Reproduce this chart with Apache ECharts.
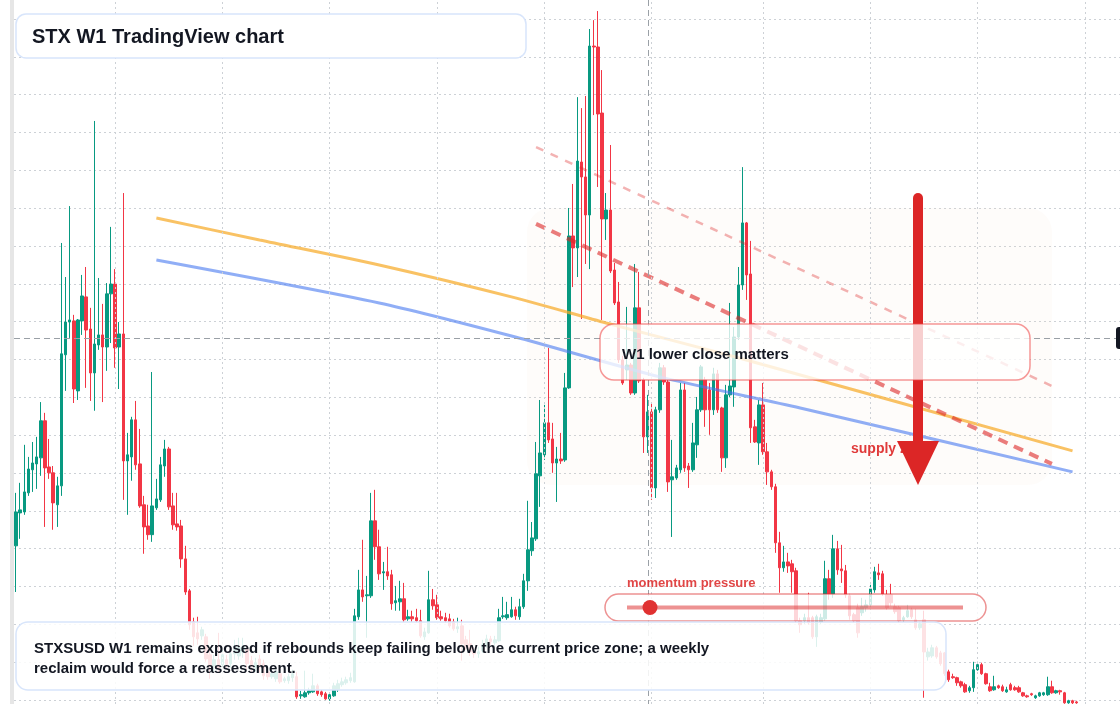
<!DOCTYPE html>
<html>
<head>
<meta charset="utf-8">
<title>STX W1 TradingView chart</title>
<script src="https://cdn.jsdelivr.net/npm/echarts@6/dist/echarts.min.js"></script>
<style>
  html, body { margin: 0; padding: 0; background: #ffffff; }
  #chart { width: 1120px; height: 704px; }
</style>
</head>
<body>
<div id="chart"></div>
<script>
// weekly candles, oldest first (STXUSD, W1)
const weekStart = Date.UTC(2021, 6, 19);
const weeks = Array.from({ length: 268 }, (_, i) => new Date(weekStart + i * 604800000).toISOString().slice(0, 10));

// time grid: first week of each half year
const gridWeeks = ['2022-01-03', '2022-07-04', '2023-01-02', '2023-07-03', '2024-01-01', '2024-07-01', '2025-01-06', '2025-07-07', '2026-01-05', '2026-07-06'];

const opens = [
  1.015,1.189,1.194,1.295,1.417,1.448,1.480,1.676,1.432,1.401,
  1.232,1.332,2.025,2.198,2.204,1.834,2.204,2.331,2.161,1.929,
  2.077,2.130,2.066,2.347,2.399,2.066,2.135,1.464,1.485,1.681,
  1.448,1.232,1.120,1.074,1.216,1.258,1.437,1.527,1.226,1.131,
  1.120,0.946,0.777,0.613,0.555,0.539,0.534,0.439,0.381,0.413,
  0.387,0.413,0.392,0.444,0.433,0.454,0.470,0.408,0.371,0.417,
  0.392,0.349,0.323,0.312,0.339,0.302,0.302,0.318,0.323,0.222,
  0.217,0.238,0.243,0.275,0.243,0.233,0.206,0.222,0.254,0.281,
  0.291,0.302,0.296,0.640,0.782,0.751,0.751,1.147,1.010,0.872,
  0.878,0.862,0.714,0.719,0.735,0.629,0.640,0.635,0.619,0.534,
  0.555,0.730,0.703,0.640,0.635,0.629,0.613,0.576,0.592,0.518,
  0.497,0.455,0.444,0.460,0.492,0.523,0.502,0.513,0.640,0.635,
  0.640,0.677,0.640,0.693,0.830,0.989,1.052,1.385,1.496,1.665,
  1.580,1.453,1.474,1.469,1.850,2.653,2.590,3.044,2.965,2.764,
  3.657,3.652,3.303,2.743,2.790,2.473,2.304,1.998,1.945,1.971,
  1.823,2.273,1.892,1.591,1.723,1.321,1.734,1.956,1.881,1.364,
  1.374,1.417,1.839,1.437,1.417,1.549,1.734,1.892,1.839,1.734,
  1.924,1.744,1.480,1.813,1.855,2.119,2.394,2.722,2.452,1.644,
  1.559,1.760,1.512,1.406,1.327,1.031,0.899,0.930,0.920,0.883,
  0.619,0.619,0.635,0.635,0.534,0.613,0.629,0.841,0.761,0.999,
  0.893,0.883,0.751,0.651,0.688,0.661,0.688,0.703,0.782,0.872,
  0.867,0.756,0.756,0.693,0.688,0.624,0.640,0.677,0.624,0.582,
  0.624,0.428,0.433,0.476,0.449,0.449,0.349,0.323,0.318,0.296,
  0.281,0.249,0.265,0.360,0.387,0.339,0.270,0.254,0.275,0.270,
  0.243,0.281,0.265,0.265,0.238,0.222,0.233,0.212,0.222,0.228,
  0.228,0.270,0.238,0.249,0.238,0.185,0.196,0.190
];
const closes = [
  1.194,1.205,1.300,1.421,1.453,1.485,1.676,1.427,1.401,1.242,
  1.332,2.030,2.198,2.209,1.844,2.209,2.336,2.156,1.929,2.082,
  2.130,2.066,2.347,2.399,2.061,2.135,1.464,1.496,1.681,1.443,
  1.226,1.115,1.074,1.226,1.263,1.443,1.527,1.221,1.126,1.115,
  0.946,0.771,0.598,0.534,0.523,0.571,0.417,0.381,0.413,0.371,
  0.439,0.387,0.444,0.486,0.476,0.481,0.392,0.376,0.397,0.371,
  0.328,0.323,0.339,0.349,0.296,0.312,0.323,0.339,0.217,0.228,
  0.238,0.249,0.275,0.233,0.228,0.206,0.228,0.275,0.286,0.296,
  0.307,0.318,0.645,0.782,0.745,0.756,1.147,1.010,0.867,0.878,
  0.856,0.709,0.725,0.735,0.624,0.640,0.629,0.619,0.539,0.560,
  0.730,0.698,0.635,0.629,0.619,0.592,0.576,0.587,0.497,0.476,
  0.455,0.444,0.455,0.492,0.523,0.508,0.518,0.635,0.645,0.651,
  0.677,0.645,0.693,0.830,0.994,1.057,1.396,1.506,1.665,1.575,
  1.453,1.474,1.464,1.850,2.653,2.590,3.049,2.965,2.764,3.657,
  3.652,3.298,2.743,2.790,2.468,2.299,1.998,1.876,1.971,1.823,
  2.273,1.887,1.591,1.723,1.321,1.734,1.956,1.881,1.353,1.380,
  1.427,1.839,1.427,1.417,1.559,1.734,1.961,1.734,1.734,1.924,
  1.734,1.480,1.813,1.860,2.119,2.394,2.722,2.447,1.639,1.564,
  1.760,1.512,1.406,1.327,1.031,0.899,0.930,0.909,0.878,0.619,
  0.598,0.635,0.608,0.534,0.640,0.635,0.841,0.761,0.999,0.888,
  0.883,0.756,0.645,0.619,0.555,0.693,0.703,0.787,0.878,0.862,
  0.761,0.688,0.714,0.667,0.619,0.635,0.672,0.640,0.582,0.603,
  0.454,0.454,0.476,0.428,0.392,0.339,0.307,0.318,0.291,0.275,
  0.243,0.265,0.360,0.387,0.339,0.286,0.249,0.270,0.265,0.249,
  0.254,0.254,0.254,0.243,0.222,0.217,0.228,0.222,0.238,0.238,
  0.270,0.238,0.249,0.243,0.185,0.196,0.185,0.185
];
const lows = [
  0.771,1.052,1.179,1.279,1.300,1.316,1.385,1.115,1.369,1.100,
  1.115,1.279,1.834,2.114,1.770,1.786,2.130,1.850,1.781,1.729,
  2.051,1.775,1.940,2.087,1.956,1.844,1.258,1.179,1.359,1.417,
  1.216,0.973,1.047,1.036,1.205,1.247,1.380,1.205,1.100,1.095,
  0.899,0.756,0.571,0.486,0.492,0.518,0.402,0.312,0.349,0.349,
  0.371,0.360,0.371,0.413,0.413,0.423,0.360,0.349,0.349,0.344,
  0.307,0.307,0.312,0.296,0.286,0.291,0.286,0.296,0.206,0.206,
  0.212,0.228,0.238,0.222,0.217,0.201,0.196,0.217,0.243,0.270,
  0.281,0.291,0.291,0.624,0.719,0.529,0.740,0.941,0.835,0.782,
  0.835,0.677,0.672,0.672,0.613,0.619,0.613,0.608,0.529,0.518,
  0.550,0.677,0.624,0.619,0.608,0.582,0.566,0.555,0.408,0.465,
  0.433,0.423,0.423,0.449,0.476,0.492,0.486,0.508,0.629,0.624,
  0.635,0.624,0.624,0.682,0.777,0.962,1.041,1.221,1.469,1.559,
  1.401,1.247,1.448,1.459,1.845,2.383,2.436,2.214,2.505,2.478,
  3.292,2.912,2.209,2.632,2.457,2.288,1.982,1.866,1.892,1.813,
  1.813,1.876,1.506,1.506,1.258,1.268,1.718,1.866,1.300,1.062,
  1.364,1.401,1.406,1.321,1.406,1.480,1.723,1.644,1.602,1.707,
  1.718,1.406,1.427,1.802,1.750,2.103,2.368,2.315,1.559,1.559,
  1.443,1.496,1.337,1.311,0.978,0.767,0.878,0.872,0.767,0.608,
  0.555,0.603,0.598,0.523,0.481,0.603,0.619,0.730,0.740,0.862,
  0.819,0.740,0.624,0.608,0.529,0.645,0.667,0.677,0.767,0.835,
  0.751,0.677,0.698,0.656,0.608,0.613,0.635,0.629,0.571,0.571,
  0.212,0.408,0.423,0.418,0.381,0.328,0.296,0.312,0.275,0.265,
  0.238,0.238,0.243,0.355,0.333,0.281,0.243,0.249,0.259,0.243,
  0.238,0.249,0.249,0.238,0.217,0.212,0.222,0.206,0.217,0.222,
  0.222,0.233,0.233,0.228,0.180,0.180,0.175,0.180
];
const highs = [
  1.295,1.348,1.549,1.485,1.564,1.591,1.775,1.718,1.580,1.437,
  1.380,2.616,2.436,2.811,2.236,2.214,2.447,2.489,2.273,3.261,
  2.431,2.294,2.404,2.701,2.478,2.198,2.880,1.612,1.697,1.781,
  1.633,1.279,1.232,1.934,1.369,1.485,1.575,1.538,1.295,1.295,
  1.152,1.015,0.787,0.635,0.640,0.587,0.550,0.465,0.439,0.555,
  0.465,0.439,0.465,0.518,0.529,0.529,0.492,0.433,0.423,0.439,
  0.413,0.371,0.355,0.371,0.360,0.323,0.339,0.360,0.349,0.249,
  0.355,0.265,0.339,0.286,0.254,0.243,0.238,0.291,0.307,0.318,
  0.323,0.344,0.682,0.888,1.047,0.856,1.295,1.311,1.100,0.930,
  1.010,0.888,0.803,0.830,0.819,0.677,0.672,0.682,0.677,0.582,
  0.883,0.787,0.756,0.672,0.661,0.656,0.629,0.635,0.624,0.539,
  0.571,0.481,0.481,0.518,0.545,0.539,0.539,0.682,0.745,0.719,
  0.745,0.693,0.735,0.867,1.253,1.141,1.564,1.786,1.760,2.061,
  1.665,1.538,1.612,1.929,2.801,2.928,3.387,3.329,3.393,3.747,
  3.794,3.842,3.530,2.880,3.134,2.510,2.410,2.019,2.278,1.982,
  2.505,2.463,1.903,1.813,1.775,1.750,1.982,1.971,1.892,1.575,
  1.443,1.876,1.876,1.453,1.665,1.802,1.971,1.908,1.876,1.956,
  1.945,1.750,1.866,2.299,2.172,2.489,3.017,2.727,2.627,1.681,
  1.786,1.876,1.559,1.417,1.343,1.089,1.015,0.978,0.941,0.899,
  0.635,0.656,0.767,0.645,0.651,0.656,0.936,0.888,1.073,1.041,
  1.020,0.914,0.761,0.661,0.709,0.740,0.730,0.809,0.904,0.920,
  0.883,0.782,0.814,0.709,0.698,0.645,0.703,0.688,0.682,0.613,
  0.672,0.476,0.492,0.486,0.460,0.454,0.360,0.339,0.323,0.302,
  0.291,0.275,0.402,0.402,0.397,0.344,0.291,0.328,0.281,0.281,
  0.270,0.291,0.275,0.275,0.243,0.228,0.238,0.228,0.243,0.243,
  0.323,0.302,0.254,0.254,0.243,0.201,0.201,0.196
];

// drawn overlays: [week index, price]
const orangeMA = [[34, 2.748], [59, 2.632], [88, 2.500], [121, 2.326], [143, 2.193], [175, 2.009], [256, 1.517]];
const blueMA = [[34, 2.526], [88, 2.299], [121, 2.119], [156, 1.908], [190, 1.744], [256, 1.406]];
const upperTrend = [[126, 3.123], [251, 1.860]];
const lowerTrend = [[126, 2.717], [251, 1.448]];

const FONT = '"Liberation Sans", Arial, Helvetica, sans-serif';
const GRID_COLOR = '#cdd1d6';
const DOT = [2, 3];

const candles = opens.map((o, i) => [o, closes[i], lows[i], highs[i]]);

const chart = echarts.init(document.getElementById('chart'), null, { renderer: 'canvas' });

const hiddenCategory = (gridIndex) => ({
  type: 'category',
  gridIndex: gridIndex,
  data: weeks,
  boundaryGap: true,
  show: false,
  splitLine: { show: false }
});

chart.setOption({
  animation: false,
  backgroundColor: '#ffffff',
  grid: [
    { left: 14, right: 0, top: 0, bottom: 0 },   // full height, time grid
    { left: 14, right: 0, top: 19, bottom: 4 }   // price pane
  ],
  xAxis: [hiddenCategory(0), hiddenCategory(1)],
  yAxis: [
    { type: 'value', gridIndex: 0, min: 0, max: 1, show: false, splitLine: { show: false } },
    {
      type: 'value',
      gridIndex: 1,
      min: 0.2,
      max: 3.8,
      interval: 0.2,
      axisLine: { show: false },
      axisTick: { show: false },
      axisLabel: { show: false },
      splitLine: { show: true, lineStyle: { color: GRID_COLOR, type: DOT, width: 1 } }
    }
  ],
  series: [
    {
      name: 'time grid',
      type: 'line',
      xAxisIndex: 0,
      yAxisIndex: 0,
      data: [],
      silent: true,
      markLine: {
        silent: true,
        symbol: 'none',
        label: { show: false },
        lineStyle: { color: GRID_COLOR, type: DOT, width: 1 },
        data: gridWeeks.map((w) => ({ xAxis: w }))
      }
    },
    {
      name: 'STXUSD',
      type: 'candlestick',
      xAxisIndex: 1,
      yAxisIndex: 1,
      data: candles,
      barWidth: 3,
      clip: false,
      z: 2,
      itemStyle: {
        color: '#089981',
        color0: '#f23645',
        borderColor: '#089981',
        borderColor0: '#f23645',
        borderWidth: 1
      }
    },
    {
      name: 'MA slow',
      type: 'line',
      xAxisIndex: 1,
      yAxisIndex: 1,
      data: orangeMA,
      smooth: 0.25,
      symbol: 'none',
      z: 3,
      lineStyle: { color: 'rgba(247,170,40,0.72)', width: 3 }
    },
    {
      name: 'MA fast',
      type: 'line',
      xAxisIndex: 1,
      yAxisIndex: 1,
      data: blueMA,
      smooth: 0.25,
      symbol: 'none',
      z: 3,
      lineStyle: { color: 'rgba(70,120,240,0.6)', width: 3 }
    },
    {
      name: 'upper trend',
      type: 'line',
      xAxisIndex: 1,
      yAxisIndex: 1,
      data: upperTrend,
      symbol: 'none',
      z: 3,
      lineStyle: { color: 'rgba(220,38,38,0.35)', width: 2.5, type: [8, 8] }
    },
    {
      name: 'lower trend',
      type: 'line',
      xAxisIndex: 1,
      yAxisIndex: 1,
      data: lowerTrend,
      symbol: 'none',
      z: 3,
      lineStyle: { color: 'rgba(220,38,38,0.6)', width: 4, type: [10, 7] }
    }
  ],
  graphic: [
    // left price-scale strip
    { type: 'rect', z: 1, shape: { x: 10, y: 0, width: 4, height: 704 }, style: { fill: '#e6e6e6' } },
    // supply zone
    { type: 'rect', z: 1, shape: { x: 527, y: 208, width: 525, height: 277, r: 24 }, style: { fill: 'rgba(240,220,200,0.09)' } },
    // crosshair
    { type: 'line', z: 5, shape: { x1: 14, y1: 338.5, x2: 1116, y2: 338.5 }, style: { stroke: '#9aa0a6', lineWidth: 1, lineDash: [6, 4] } },
    { type: 'line', z: 5, shape: { x1: 648.5, y1: 0, x2: 648.5, y2: 704 }, style: { stroke: '#9aa0a6', lineWidth: 1, lineDash: [6, 4] } },
    { type: 'rect', z: 6, shape: { x: 1116, y: 327, width: 14, height: 22, r: 3 }, style: { fill: '#131722' } },
    // supply zone label and arrow
    { type: 'text', z: 6, x: 851, y: 449, style: { text: 'supply zone', font: 'bold 14px ' + FONT, fill: '#e03a3a', textVerticalAlign: 'middle', verticalAlign: 'middle' } },
    { type: 'line', z: 7, shape: { x1: 918, y1: 198, x2: 918, y2: 446 }, style: { stroke: '#dc2626', lineWidth: 10, lineCap: 'round' } },
    { type: 'polygon', z: 7, shape: { points: [[897, 441], [939, 441], [918, 485]] }, style: { fill: '#dc2626' } },
    // title
    { type: 'rect', z: 20, shape: { x: 16, y: 14, width: 510, height: 44, r: 10 }, style: { fill: '#ffffff', stroke: '#d8e5fb', lineWidth: 1.5 } },
    { type: 'text', z: 21, x: 32, y: 37, style: { text: 'STX W1 TradingView chart', font: 'bold 20px ' + FONT, fill: '#131722', textVerticalAlign: 'middle', verticalAlign: 'middle' } },
    // callout
    { type: 'rect', z: 20, shape: { x: 600, y: 324, width: 430, height: 56, r: 14 }, style: { fill: 'rgba(255,255,255,0.78)', stroke: 'rgba(239,68,68,0.55)', lineWidth: 1.5 } },
    { type: 'text', z: 21, x: 622, y: 355, style: { text: 'W1 lower close matters', font: 'bold 15px ' + FONT, fill: '#131722', textVerticalAlign: 'middle', verticalAlign: 'middle' } },
    // momentum gauge
    { type: 'text', z: 21, x: 627, y: 583, style: { text: 'momentum pressure', font: 'bold 13px ' + FONT, fill: 'rgba(220,38,38,0.85)', textVerticalAlign: 'middle', verticalAlign: 'middle' } },
    { type: 'rect', z: 20, shape: { x: 605, y: 594, width: 381, height: 27, r: 13.5 }, style: { fill: 'rgba(255,255,255,0.8)', stroke: 'rgba(220,38,38,0.5)', lineWidth: 1.5 } },
    { type: 'line', z: 21, shape: { x1: 627, y1: 607.5, x2: 963, y2: 607.5 }, style: { stroke: 'rgba(220,38,38,0.5)', lineWidth: 4 } },
    { type: 'circle', z: 22, shape: { cx: 650, cy: 607.5, r: 7.5 }, style: { fill: '#e03131' } },
    // commentary
    { type: 'rect', z: 20, shape: { x: 16, y: 622, width: 930, height: 68, r: 12 }, style: { fill: 'rgba(255,255,255,0.86)', stroke: '#d8e5fb', lineWidth: 1.5 } },
    { type: 'text', z: 21, x: 34, y: 649, style: { text: 'STXSUSD W1 remains exposed if rebounds keep failing below the current price zone; a weekly', font: 'bold 15px ' + FONT, fill: '#131722', textVerticalAlign: 'middle', verticalAlign: 'middle' } },
    { type: 'text', z: 21, x: 34, y: 669, style: { text: 'reclaim would force a reassessment.', font: 'bold 15px ' + FONT, fill: '#131722', textVerticalAlign: 'middle', verticalAlign: 'middle' } }
  ]
});
</script>
</body>
</html>
